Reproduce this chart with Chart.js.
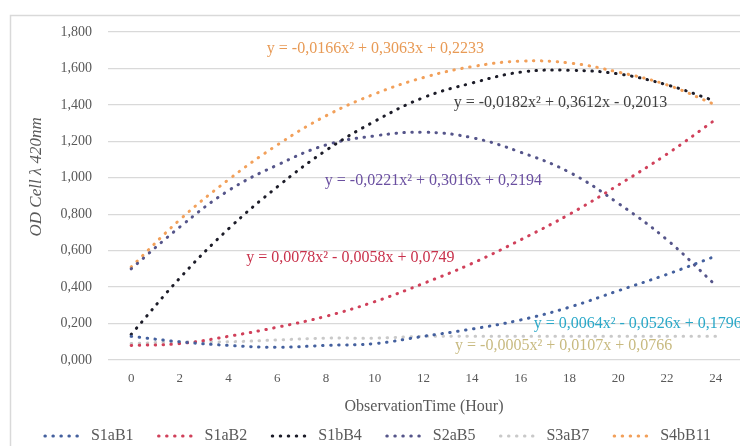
<!DOCTYPE html>
<html>
<head>
<meta charset="utf-8">
<script src="https://cdn.jsdelivr.net/npm/chart.js@4.4.1/dist/chart.umd.min.js"></script>
<style>
  html, body { margin: 0; padding: 0; background: #fff; }
  #wrap { position: relative; width: 740px; height: 446px; }
</style>
</head>
<body>
<div id="wrap"><canvas id="od-chart"></canvas></div>
<script>
const hours = [0, 2, 4, 6, 8, 10, 12, 14, 16, 18, 20, 22, 24];

const s1aB1 = [0.13, 0.10, 0.08, 0.07, 0.08, 0.09, 0.13, 0.17, 0.22, 0.29, 0.38, 0.47, 0.57];
const s1aB2 = [0.08, 0.09, 0.13, 0.18, 0.24, 0.32, 0.42, 0.53, 0.66, 0.80, 0.96, 1.13, 1.32];
const s1bB4 = [0.14, 0.45, 0.72, 0.95, 1.15, 1.31, 1.44, 1.52, 1.58, 1.59, 1.57, 1.51, 1.42];
const s2aB5 = [0.50, 0.73, 0.93, 1.07, 1.18, 1.23, 1.25, 1.22, 1.14, 1.03, 0.86, 0.66, 0.41];
const s3aB7 = [0.09, 0.10, 0.10, 0.11, 0.12, 0.12, 0.13, 0.13, 0.13, 0.13, 0.13, 0.13, 0.13];
const s4bB11 = [0.51, 0.77, 0.99, 1.18, 1.34, 1.46, 1.55, 1.61, 1.64, 1.63, 1.58, 1.51, 1.40];

const seriesNames = ['S1aB1', 'S1aB2', 'S1bB4', 'S2aB5', 'S3aB7', 'S4bB11'];
const seriesValues = [s1aB1, s1aB2, s1bB4, s2aB5, s3aB7, s4bB11];
const seriesColors = ['#44609E', '#D0405A', '#1C1C28', '#55558A', '#C9C9C9', '#F2A05A'];

// trendline equations as printed on the chart
const equations = [
  'y = 0,0064x² - 0,0526x + 0,1796',
  'y = 0,0078x² - 0,0058x + 0,0749',
  'y = -0,0182x² + 0,3612x - 0,2013',
  'y = -0,0221x² + 0,3016x + 0,2194',
  'y = -0,0005x² + 0,0107x + 0,0766',
  'y = -0,0166x² + 0,3063x + 0,2233'
];

const SERIF = '"Liberation Serif", "Times New Roman", serif';
const DOTS = [0.5, 7.5];
Chart.defaults.font.family = SERIF;
Chart.defaults.color = '#595959';

// where each equation sits (in data units) and its colour
const equationStyle = [
  { x: 20.8, y: 0.198, color: '#2AA8C8' },
  { x: 9.0, y: 0.56, color: '#C8304A' },
  { x: 17.63, y: 1.41, color: '#404040' },
  { x: 12.41, y: 0.982, color: '#6A4FA0' },
  { x: 17.76, y: 0.077, color: '#C8BA80' },
  { x: 10.03, y: 1.707, color: '#E89A55' }
];

const framePlugin = {
  id: 'frame',
  beforeDraw(chart) {
    const ctx = chart.ctx;
    ctx.save();
    ctx.fillStyle = '#fff';
    ctx.fillRect(0, 0, chart.width, chart.height);
    ctx.strokeStyle = '#D9D9D9';
    ctx.lineWidth = 1.5;
    ctx.strokeRect(10.5, 15.5, chart.width + 20, chart.height + 20);
    ctx.restore();
  }
};

const equationPlugin = {
  id: 'equations',
  afterDatasetsDraw(chart) {
    const { ctx, scales } = chart;
    ctx.save();
    ctx.font = '16px ' + SERIF;
    ctx.textAlign = 'center';
    ctx.textBaseline = 'middle';
    equations.forEach((txt, i) => {
      const s = equationStyle[i];
      ctx.fillStyle = s.color;
      ctx.fillText(txt, scales.x.getPixelForValue(s.x), scales.y.getPixelForValue(s.y));
    });
    ctx.restore();
  }
};

const datasets = seriesNames.map((name, i) => ({
  label: name,
  data: hours.map((h, j) => ({ x: h, y: seriesValues[i][j] })),
  borderColor: seriesColors[i],
  backgroundColor: seriesColors[i],
  borderWidth: 3,
  borderDash: DOTS,
  borderCapStyle: 'round',
  pointRadius: 0,
  pointHoverRadius: 0,
  tension: 0.4,
  fill: false
}));

new Chart(document.getElementById('od-chart'), {
  type: 'line',
  data: { datasets },
  options: {
    responsive: true,
    maintainAspectRatio: false,
    animation: false,
    layout: { padding: { left: 16, right: 0, top: 32, bottom: -8 } },
    scales: {
      x: {
        type: 'linear',
        min: -0.95,
        max: 25,
        grid: { display: false, drawTicks: false },
        border: { display: false },
        ticks: {
          stepSize: 2,
          includeBounds: false,
          padding: 10.5,
          font: { size: 13 },
          color: '#595959'
        },
        title: {
          display: true,
          text: 'ObservationTime (Hour)',
          font: { size: 16 },
          color: '#595959',
          padding: { top: 0, bottom: -13.6 }
        },
        afterFit(scale) { scale.height = 43; }
      },
      y: {
        min: 0,
        max: 1.8,
        grid: { color: '#D9D9D9', lineWidth: 1.3, drawTicks: false },
        border: { display: false },
        ticks: {
          stepSize: 0.2,
          padding: 16,
          font: { size: 14 },
          color: '#595959',
          callback: v => v.toFixed(3).replace('.', ',')
        },
        title: {
          display: true,
          text: '         OD Cell λ 420nm',
          font: { size: 17, style: 'italic' },
          color: '#595959',
          padding: { top: 10.8, bottom: 0 }
        },
        afterFit(scale) { scale.width = 92; }
      }
    },
    plugins: {
      legend: {
        position: 'bottom',
        labels: {
          usePointStyle: true,
          pointStyle: 'line',
          pointStyleWidth: 38,
          padding: 25,
          font: { size: 16 },
          color: '#595959',
          // legend samples use the dotted line style of each series
          generateLabels(chart) {
            return chart.data.datasets.map((ds, i) => ({
              text: ds.label,
              datasetIndex: i,
              hidden: !chart.isDatasetVisible(i),
              strokeStyle: ds.borderColor,
              fillStyle: ds.borderColor,
              fontColor: '#595959',
              lineWidth: ds.borderWidth,
              lineDash: ds.borderDash,
              lineCap: ds.borderCapStyle,
              pointStyle: 'line'
            }));
          }
        }
      },
      tooltip: { enabled: false }
    }
  },
  plugins: [framePlugin, equationPlugin]
});
</script>
</body>
</html>
